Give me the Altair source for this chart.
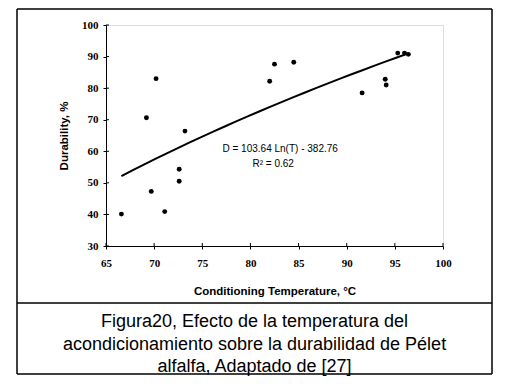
import altair as alt
import pandas as pd

# Data
temperature = [66.6, 69.2, 70.2, 69.7, 71.1, 72.6, 72.6, 73.2, 82.0, 82.5, 84.5, 91.6, 94.0, 94.1, 95.3, 96.0, 96.4]
durability = [40.1, 70.6, 83.0, 47.3, 40.9, 54.3, 50.5, 66.4, 82.2, 87.6, 88.2, 78.5, 82.8, 81.0, 91.1, 91.1, 90.7]
x_ticks = [65, 70, 75, 80, 85, 90, 95, 100]
y_ticks = [30, 40, 50, 60, 70, 80, 90, 100]
equation_text = "D = 103.64 Ln(T) - 382.76"
r2_text = "R\u00b2 = 0.62"
caption_lines = [
    "Figura20, Efecto de la temperatura del",
    "acondicionamiento sobre la durabilidad de P\u00e9let",
    "alfalfa, Adaptado de [27]",
]

W, H = 337, 221
df = pd.DataFrame({"T": temperature, "D": durability})

xscale = alt.Scale(domain=[65, 100], nice=False, zero=False)
yscale = alt.Scale(domain=[30, 100], nice=False, zero=False)

tick_font = "Liberation Serif"
sans = "Liberation Sans"

x_axis = alt.Axis(
    values=x_ticks, title="Conditioning Temperature, \u00b0C", grid=False,
    labelFont=tick_font, labelFontWeight="bold", labelFontSize=11, labelColor="black",
    labelOverlap=False, labelFlush=False,
    titleFont=sans, titleFontWeight="bold", titleFontSize=11.5, titleColor="black",
    titlePadding=17, domainColor="black", tickColor="black", tickSize=3, labelPadding=8,
)
y_axis = alt.Axis(
    values=y_ticks, title="Durability, %", grid=False,
    labelFont=tick_font, labelFontWeight="bold", labelFontSize=11, labelColor="black",
    labelOverlap=False, labelFlush=False,
    titleFont=sans, titleFontWeight="bold", titleFontSize=11.5, titleColor="black",
    titlePadding=12, domainColor="black", tickColor="black", tickSize=3, labelPadding=5,
)

def X():
    return alt.X("T:Q", scale=xscale, axis=x_axis)

def Y():
    return alt.Y("D:Q", scale=yscale, axis=y_axis)

points = alt.Chart(df).mark_circle(color="black", opacity=1, size=24).encode(x=X(), y=Y())

trend = alt.Chart(df).transform_regression(
    "T", "D", method="log", extent=[66.6, 96.4]
).mark_line(color="black", strokeWidth=2).encode(x=X(), y=Y())

# inner halves of the crossing ticks
ytick_df = pd.DataFrame({"D": y_ticks})
xtick_df = pd.DataFrame({"T": x_ticks})
yticks_in = alt.Chart(ytick_df).mark_rule(color="black", strokeWidth=1).encode(
    y=Y(), x=alt.value(0), x2=alt.value(3)
)
xticks_in = alt.Chart(xtick_df).mark_rule(color="black", strokeWidth=1).encode(
    x=X(), y=alt.value(H - 3), y2=alt.value(H)
)

eq = alt.Chart(pd.DataFrame({"t": [equation_text]})).mark_text(
    font=sans, fontSize=10, align="left", baseline="middle", color="black"
).encode(text="t:N", x=alt.value(116.5), y=alt.value(124))
r2 = alt.Chart(pd.DataFrame({"t": [r2_text]})).mark_text(
    font=sans, fontSize=10, align="left", baseline="middle", color="black"
).encode(text="t:N", x=alt.value(146.5), y=alt.value(138.5))

caption_layers = [
    alt.Chart(pd.DataFrame({"t": [line]})).mark_text(
        font=sans, fontSize=18, align="center", baseline="middle", color="black"
    ).encode(text="t:N", x=alt.value(148.5), y=alt.value(297 + 22.5 * i))
    for i, line in enumerate(caption_lines)
]

# outer frame
frame_col = "black"
one = df.head(1)
box_top = alt.Chart(one).mark_rule(color=frame_col, strokeWidth=1.5).encode(
    x=alt.value(-89), x2=alt.value(386), y=alt.value(-16))
box_mid = alt.Chart(one).mark_rule(color=frame_col, strokeWidth=1.5).encode(
    x=alt.value(-89), x2=alt.value(386), y=alt.value(278))
box_bot = alt.Chart(one).mark_rule(color=frame_col, strokeWidth=1.5).encode(
    x=alt.value(-89), x2=alt.value(386), y=alt.value(349))
box_left = alt.Chart(one).mark_rule(color=frame_col, strokeWidth=1.5).encode(
    x=alt.value(-89), y=alt.value(-16), y2=alt.value(349))
box_right = alt.Chart(one).mark_rule(color=frame_col, strokeWidth=1.5).encode(
    x=alt.value(386), y=alt.value(-16), y2=alt.value(349))

chart = alt.layer(
    points, trend, yticks_in, xticks_in, eq, r2, *caption_layers,
    box_top, box_mid, box_bot, box_left, box_right,
).properties(
    width=W, height=H,
    autosize=alt.AutoSizeParams(type="none"),
    padding={"left": 98, "top": 17, "right": 56, "bottom": 131},
).configure_view(strokeWidth=0).configure(background="white")

chart.save("out.html", embed_options={"renderer": "svg", "actions": False})
